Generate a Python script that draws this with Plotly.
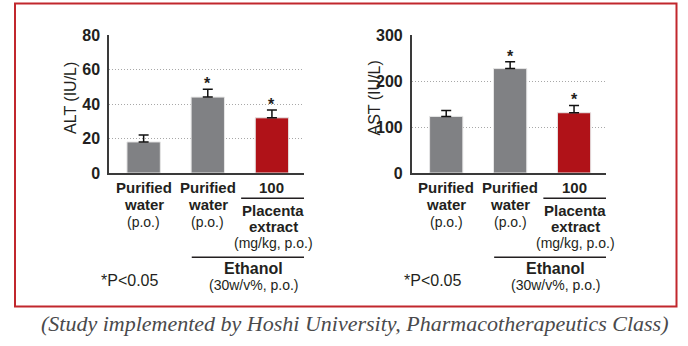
import plotly.graph_objects as go

# Group means and SEM (upper whisker only)
groups = ["Purified water", "Purified water + Ethanol", "Placenta extract 100 + Ethanol"]
alt_mean = [18, 44, 32]
alt_err = [4, 4.5, 4.5]
ast_mean = [123, 227, 131]
ast_err = [13, 15, 16]
significant = [False, True, True]
bar_colors = ["#808184", "#808184", "#b01218"]

W, H = 688, 346
SANS = "Liberation Sans, Arial, sans-serif"
INK = "#231f20"


def py(p):
    """pixel row -> paper y"""
    return 1 - p / H


fig = go.Figure()

panels = [
    dict(xa="x", ya="y", mean=alt_mean, err=alt_err, title="ALT (IU/L)",
         ymax=80, dtick=20, dom=[109 / W, 304 / W], title_x=70.5),
    dict(xa="x2", ya="y2", mean=ast_mean, err=ast_err, title="AST (IU/L)",
         ymax=300, dtick=100, dom=[411.7 / W, 606 / W], title_x=374),
]

ctr = dict(xanchor="center", yanchor="middle", showarrow=False)
xs = [0, 1, 2]
for p in panels:
    fig.add_trace(go.Bar(
        x=xs, y=p["mean"], xaxis=p["xa"], yaxis=p["ya"], width=0.52,
        marker=dict(color=bar_colors, line=dict(color="#e6e6e6", width=1)),
        error_y=dict(type="data", array=p["err"], arrayminus=[0, 0, 0],
                     symmetric=False, color="#111111", thickness=1.5, width=5),
        showlegend=False, hoverinfo="skip",
    ))
    # significance marks
    for x, m, e, s in zip(xs, p["mean"], p["err"], significant):
        if s:
            fig.add_annotation(x=x, y=m + e, xref=p["xa"], yref=p["ya"], text="<b>*</b>",
                               showarrow=False, xanchor="center", yanchor="bottom", yshift=-5,
                               font=dict(family=SANS, size=16, color=INK))
    # axis title
    fig.add_annotation(x=p["title_x"] / W, y=py(98.5), xref="paper", yref="paper",
                       text=p["title"], textangle=-90, **ctr,
                       font=dict(family=SANS, size=16, color=INK))

    xr = p["xa"]
    lab = dict(xref=xr, yref="paper", **ctr)
    bold = dict(family=SANS, size=15, color=INK)
    reg = dict(family=SANS, size=14, color=INK)
    for x in (0, 1):
        fig.add_annotation(x=x, y=py(187.3), text="<b>Purified</b>", font=bold, **lab)
        fig.add_annotation(x=x, y=py(204.3), text="<b>water</b>", font=bold, **lab)
        fig.add_annotation(x=x, y=py(221.7), text="(p.o.)", font=reg, **lab)
    fig.add_annotation(x=2, y=py(187.3), text="<b>100</b>", font=bold, **lab)
    fig.add_annotation(x=2.02, y=py(210), text="<b>Placenta</b>", font=bold, **lab)
    fig.add_annotation(x=2.02, y=py(226.7), text="<b>extract</b>", font=bold, **lab)
    fig.add_annotation(x=2.02, y=py(243.3), text="(mg/kg, p.o.)", font=reg, **lab)
    fig.add_annotation(x=1.71, y=py(268.3), text="<b>Ethanol</b>",
                       font=dict(family=SANS, size=16, color=INK), **lab)
    fig.add_annotation(x=1.71, y=py(285), text="(30w/v%, p.o.)", font=reg, **lab)
    fig.add_annotation(x=-0.22, y=py(280), text="*P<0.05",
                       font=dict(family=SANS, size=16, color=INK), **lab)
    # bracket lines
    fig.add_shape(type="line", xref=xr, yref="paper", x0=1.52, x1=2.55,
                  y0=py(198.3), y1=py(198.3), line=dict(color=INK, width=1.5))
    fig.add_shape(type="line", xref=xr, yref="paper", x0=0.75, x1=2.67,
                  y0=py(257.3), y1=py(257.3), line=dict(color=INK, width=1.5))

axis_common = dict(showline=True, linecolor="#3a3a3a", linewidth=1.5, zeroline=False)
for i, p in enumerate(panels):
    sfx = "" if i == 0 else str(i + 1)
    fig.layout["xaxis" + sfx] = dict(domain=p["dom"], range=[-0.54, 2.5], showticklabels=False,
                                     showgrid=False, ticks="", anchor="y" + sfx, fixedrange=True,
                                     **axis_common)
    fig.layout["yaxis" + sfx] = dict(domain=[py(173), py(35)], range=[0, p["ymax"]], dtick=p["dtick"],
                                     showgrid=True, gridcolor="#a8a8a8", griddash="1px,2px", gridwidth=1,
                                     ticks="", anchor="x" + sfx, tickprefix="<b>", ticksuffix="</b>",
                                     tickfont=dict(family=SANS, size=16, color=INK),
                                     ticklabelstandoff=4, fixedrange=True, **axis_common)

# frame around the figure
fig.add_shape(type="rect", xref="paper", yref="paper", x0=15 / W, x1=676.5 / W,
              y0=py(306.5), y1=py(3.5), line=dict(color="#c1272d", width=2), layer="below")

fig.add_annotation(x=354.5 / W, y=py(323), xref="paper", yref="paper", **ctr,
                   text="<i>(Study implemented by Hoshi University, Pharmacotherapeutics Class)</i>",
                   font=dict(family="Liberation Serif, Times New Roman, serif", size=22, color="#4a4a4c"))

fig.update_layout(width=W, height=H, margin=dict(l=0, r=0, t=0, b=0, autoexpand=False),
                  paper_bgcolor="white", plot_bgcolor="white", bargap=0.48)

fig.write_html("out.html")
